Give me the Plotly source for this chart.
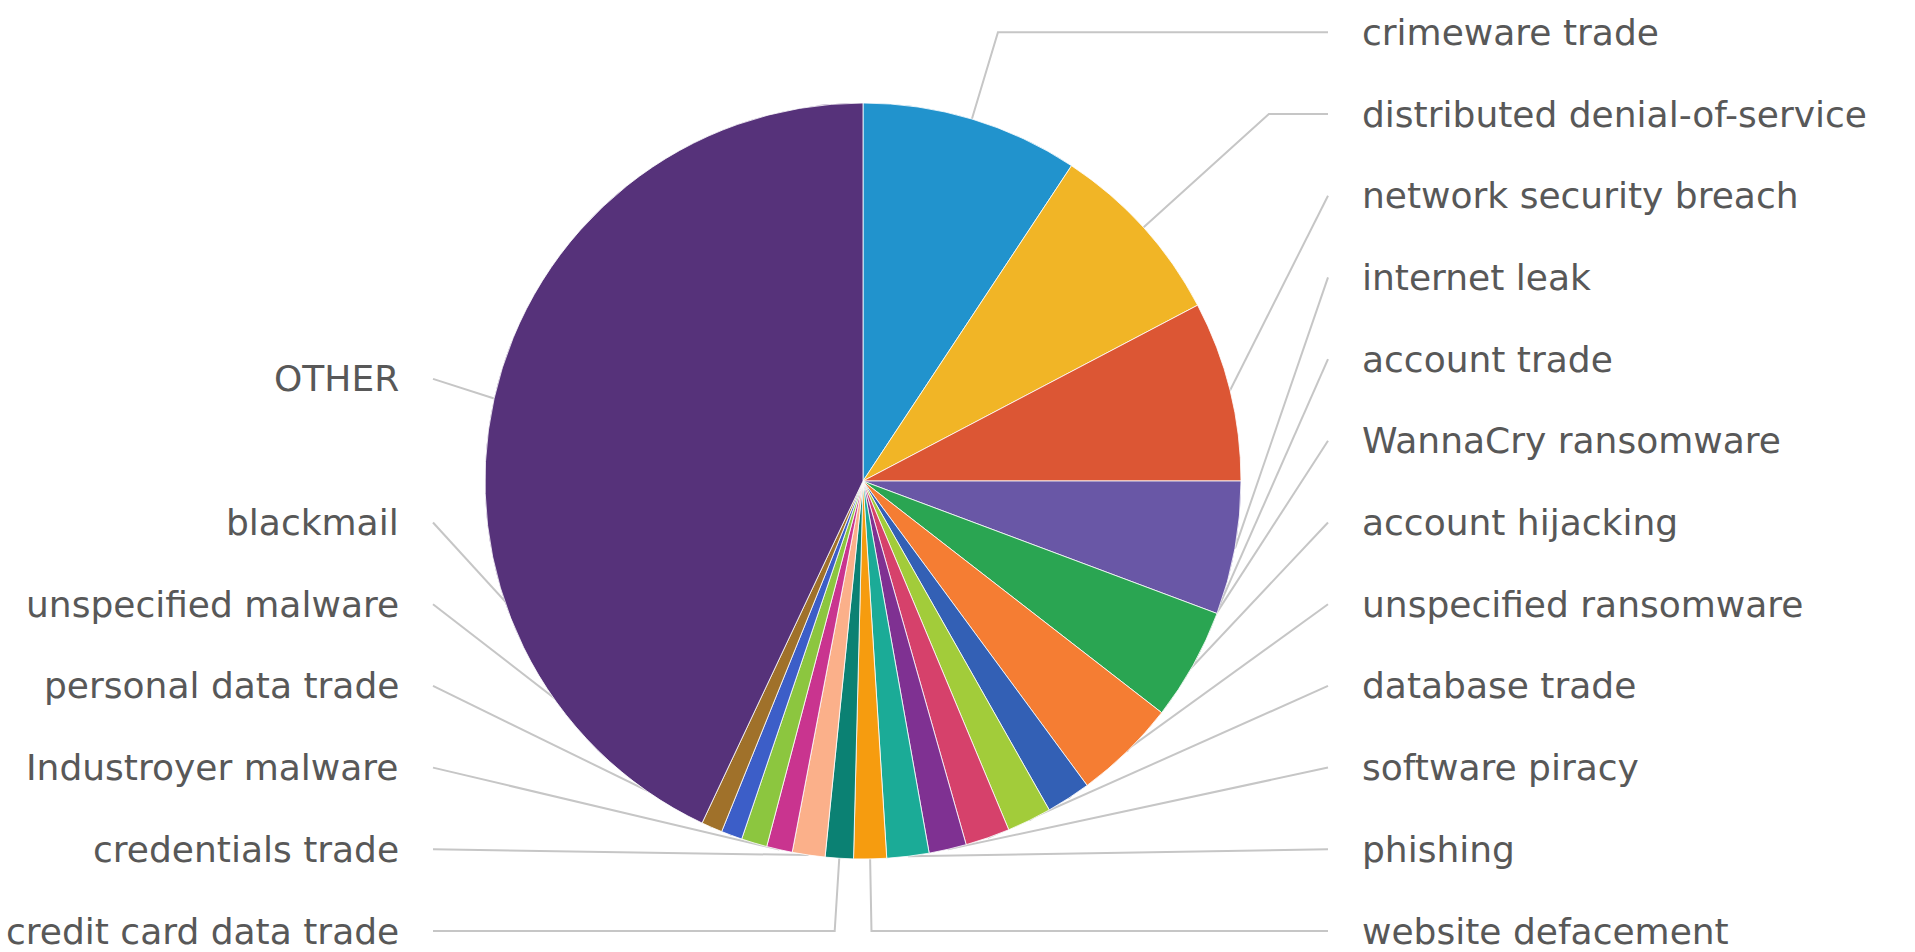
import math
import plotly.graph_objects as go

# ---- data (clockwise from 12 o'clock) ----
labels = [
    "crimeware trade", "distributed denial-of-service", "network security breach",
    "internet leak", "account trade", "WannaCry ransomware", "account hijacking",
    "unspecified ransomware", "database trade", "software piracy", "phishing",
    "website defacement", "credit card data trade", "credentials trade",
    "Industroyer malware", "personal data trade", "unspecified malware",
    "blackmail", "OTHER",
]
values = [9.3, 8.0, 7.7, 5.7, 4.8, 4.4, 1.9, 1.9, 1.9, 1.6, 1.8, 1.4,
          1.2, 1.4, 1.1, 1.1, 0.9, 0.9, 43.0]
colors = [
    "#2193cd", "#f1b526", "#dc5634", "#6957a6", "#2aa552", "#f57d33",
    "#3360b5", "#a2cc3a", "#d6416b", "#7f3192", "#1bab97", "#f69c0f",
    "#0b8173", "#fbb08a", "#c9348f", "#8cc63f", "#3c5ec8", "#a0712a",
    "#56327a",
]

# ---- layout constants (pixels) ----
W, H = 1915, 952
CX, CY, R = 863, 481, 378
LABEL_DIST = 90
ROW_GAP = 81.7
ROW_TOP, ROW_BOTTOM = 32, 931
RIGHT_LINE_X, LEFT_LINE_X = 1328, 433
TEXT_PAD = 32
LINE_COLOR = "#c6c6c6"
TEXT_COLOR = "#585858"
FONT = "DejaVu Sans"
FONT_SIZE = 36

total = float(sum(values))
mids = []
acc = 0.0
for v in values:
    mids.append((acc + v / 2.0) / total * 2 * math.pi)
    acc += v


def natural_y(a):
    return CY - (R + LABEL_DIST) * math.cos(a)


def distribute(idxs):
    idxs = sorted(idxs, key=lambda i: natural_y(mids[i]))
    ys = [natural_y(mids[i]) for i in idxs]
    for k in range(len(ys)):
        lo = ROW_TOP if k == 0 else ys[k - 1] + ROW_GAP
        ys[k] = max(ys[k], lo)
    for k in range(len(ys) - 1, -1, -1):
        hi = ROW_BOTTOM if k == len(ys) - 1 else ys[k + 1] - ROW_GAP
        ys[k] = min(ys[k], hi)
    return dict(zip(idxs, ys))


right_idx = [i for i, a in enumerate(mids) if math.sin(a) >= 0]
left_idx = [i for i, a in enumerate(mids) if math.sin(a) < 0]
label_y = {}
label_y.update(distribute(right_idx))
label_y.update(distribute(left_idx))

fig = go.Figure()

# leader lines
lx, ly = [], []
annotations = []
for i, a in enumerate(mids):
    right = math.sin(a) >= 0
    yl = label_y[i]
    xe = RIGHT_LINE_X if right else LEFT_LINE_X
    ex = CX + R * math.sin(a)
    ey = CY - R * math.cos(a)
    pts = [(xe, yl)]
    c = math.cos(a)
    if abs(c) > 1e-6:
        t = (CY - yl) / c
        bx = CX + t * math.sin(a)
        ok = t >= R and ((bx <= xe) if right else (bx >= xe))
        if ok:
            pts.append((bx, yl))
    pts.append((ex, ey))
    for (px, py) in pts:
        lx.append(px)
        ly.append(py)
    lx.append(None)
    ly.append(None)
    annotations.append(dict(
        x=(xe + TEXT_PAD) if right else (xe - TEXT_PAD), y=yl,
        xref="x", yref="y", text=labels[i], showarrow=False,
        xanchor="left" if right else "right", yanchor="middle",
        font=dict(family=FONT, size=FONT_SIZE, color=TEXT_COLOR),
    ))

fig.add_trace(go.Scatter(
    x=lx, y=ly, mode="lines", line=dict(color=LINE_COLOR, width=2),
    hoverinfo="skip", showlegend=False,
))

fig.add_trace(go.Pie(
    labels=labels, values=values, sort=False, direction="clockwise",
    rotation=0, marker=dict(colors=colors, line=dict(color="#ffffff", width=0.8)),
    textinfo="none", showlegend=False,
    domain=dict(x=[(CX - R) / W, (CX + R) / W],
                y=[1 - (CY + R) / H, 1 - (CY - R) / H]),
))

fig.update_layout(
    width=W, height=H, autosize=False,
    margin=dict(l=0, r=0, t=0, b=0),
    paper_bgcolor="white", plot_bgcolor="white",
    xaxis=dict(range=[0, W], visible=False, showgrid=False, zeroline=False, fixedrange=True),
    yaxis=dict(range=[H, 0], visible=False, showgrid=False, zeroline=False, fixedrange=True),
    annotations=annotations,
    showlegend=False,
)

fig.write_html("out.html", config={"displayModeBar": False},
               post_script="document.body.style.margin='0';document.body.style.overflow='hidden';")
